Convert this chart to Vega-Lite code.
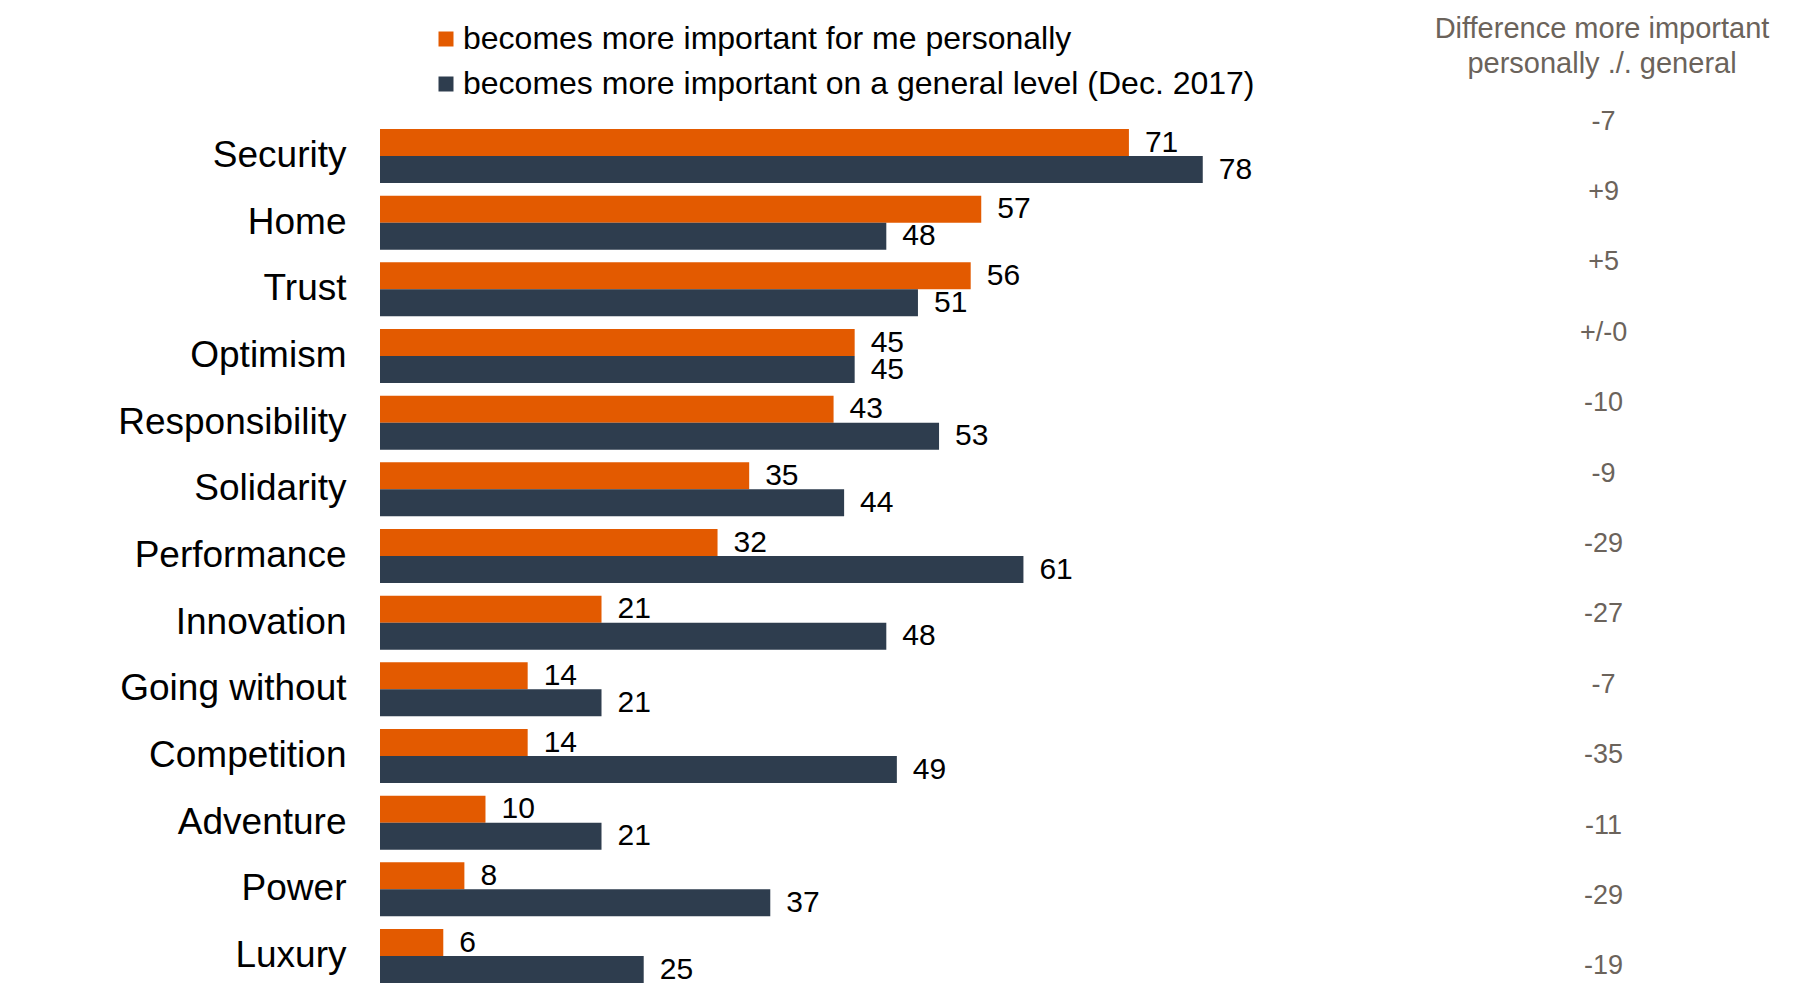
{
  "$schema": "https://vega.github.io/schema/vega-lite/v6.json",
  "width": 1424,
  "height": 854,
  "autosize": {"type": "none"},
  "padding": {"left": 380, "top": 129, "right": 4, "bottom": 1},
  "background": "white",
  "config": {"font": "Liberation Sans", "view": {"stroke": null}},
  "title": {
    "text": ["Difference more important", "personally ./. general"],
    "fontSize": 29,
    "fontWeight": "normal",
    "color": "#6b635b",
    "frame": "group",
    "anchor": "start",
    "align": "center",
    "dx": 1222,
    "offset": -56,
    "lineHeight": 35
  },
  "datasets": {
    "bars": [
      {"category": "Security", "series": "becomes more important for me personally", "value": 71},
      {"category": "Security", "series": "becomes more important on a general level (Dec. 2017)", "value": 78},
      {"category": "Home", "series": "becomes more important for me personally", "value": 57},
      {"category": "Home", "series": "becomes more important on a general level (Dec. 2017)", "value": 48},
      {"category": "Trust", "series": "becomes more important for me personally", "value": 56},
      {"category": "Trust", "series": "becomes more important on a general level (Dec. 2017)", "value": 51},
      {"category": "Optimism", "series": "becomes more important for me personally", "value": 45},
      {"category": "Optimism", "series": "becomes more important on a general level (Dec. 2017)", "value": 45},
      {"category": "Responsibility", "series": "becomes more important for me personally", "value": 43},
      {"category": "Responsibility", "series": "becomes more important on a general level (Dec. 2017)", "value": 53},
      {"category": "Solidarity", "series": "becomes more important for me personally", "value": 35},
      {"category": "Solidarity", "series": "becomes more important on a general level (Dec. 2017)", "value": 44},
      {"category": "Performance", "series": "becomes more important for me personally", "value": 32},
      {"category": "Performance", "series": "becomes more important on a general level (Dec. 2017)", "value": 61},
      {"category": "Innovation", "series": "becomes more important for me personally", "value": 21},
      {"category": "Innovation", "series": "becomes more important on a general level (Dec. 2017)", "value": 48},
      {"category": "Going without", "series": "becomes more important for me personally", "value": 14},
      {"category": "Going without", "series": "becomes more important on a general level (Dec. 2017)", "value": 21},
      {"category": "Competition", "series": "becomes more important for me personally", "value": 14},
      {"category": "Competition", "series": "becomes more important on a general level (Dec. 2017)", "value": 49},
      {"category": "Adventure", "series": "becomes more important for me personally", "value": 10},
      {"category": "Adventure", "series": "becomes more important on a general level (Dec. 2017)", "value": 21},
      {"category": "Power", "series": "becomes more important for me personally", "value": 8},
      {"category": "Power", "series": "becomes more important on a general level (Dec. 2017)", "value": 37},
      {"category": "Luxury", "series": "becomes more important for me personally", "value": 6},
      {"category": "Luxury", "series": "becomes more important on a general level (Dec. 2017)", "value": 25}
    ],
    "diffs": [
      {"category": "Security", "diff": "-7"},
      {"category": "Home", "diff": "+9"},
      {"category": "Trust", "diff": "+5"},
      {"category": "Optimism", "diff": "+/-0"},
      {"category": "Responsibility", "diff": "-10"},
      {"category": "Solidarity", "diff": "-9"},
      {"category": "Performance", "diff": "-29"},
      {"category": "Innovation", "diff": "-27"},
      {"category": "Going without", "diff": "-7"},
      {"category": "Competition", "diff": "-35"},
      {"category": "Adventure", "diff": "-11"},
      {"category": "Power", "diff": "-29"},
      {"category": "Luxury", "diff": "-19"}
    ]
  },
  "layer": [
    {
      "data": {"name": "bars"},
      "encoding": {
        "y": {
          "field": "category",
          "type": "nominal",
          "sort": ["Security", "Home", "Trust", "Optimism", "Responsibility", "Solidarity", "Performance", "Innovation", "Going without", "Competition", "Adventure", "Power", "Luxury"],
          "scale": {"paddingInner": 0.19, "paddingOuter": 0},
          "axis": {"title": null, "domain": false, "ticks": false, "labelFontSize": 37, "labelColor": "#000000", "labelPadding": 34, "labelLimit": 0}
        },
        "yOffset": {
          "field": "series",
          "type": "nominal",
          "sort": ["becomes more important for me personally", "becomes more important on a general level (Dec. 2017)"]
        },
        "x": {"field": "value", "type": "quantitative", "scale": {"domain": [0, 135], "nice": false}, "axis": null}
      },
      "layer": [
        {
          "mark": {"type": "bar"},
          "encoding": {
            "color": {
              "field": "series",
              "type": "nominal",
              "scale": {
                "domain": ["becomes more important for me personally", "becomes more important on a general level (Dec. 2017)"],
                "range": ["#e35a00", "#2e3d4e"]
              },
              "legend": {
                "title": null,
                "orient": "none",
                "legendX": 50,
                "legendY": -106,
                "symbolType": "square",
                "symbolSize": 225,
                "symbolStrokeWidth": 0,
                "labelFontSize": 32,
                "labelColor": "#000000",
                "labelLimit": 0,
                "labelOffset": 1,
                "rowPadding": 13
              }
            }
          }
        },
        {
          "mark": {"type": "text", "align": "left", "baseline": "middle", "dx": 16, "fontSize": 30, "color": "#000000"},
          "encoding": {"text": {"field": "value", "type": "quantitative"}}
        }
      ]
    },
    {
      "data": {"name": "diffs"},
      "mark": {"type": "text", "align": "center", "baseline": "middle", "fontSize": 27, "color": "#6b635b", "dy": -12},
      "encoding": {
        "y": {
          "field": "category",
          "type": "nominal",
          "sort": ["Security", "Home", "Trust", "Optimism", "Responsibility", "Solidarity", "Performance", "Innovation", "Going without", "Competition", "Adventure", "Power", "Luxury"],
          "scale": {"type": "point", "padding": 0.064},
          "axis": null
        },
        "x": {"datum": 116},
        "text": {"field": "diff", "type": "nominal"}
      }
    }
  ],
  "resolve": {"scale": {"y": "independent"}}
}
